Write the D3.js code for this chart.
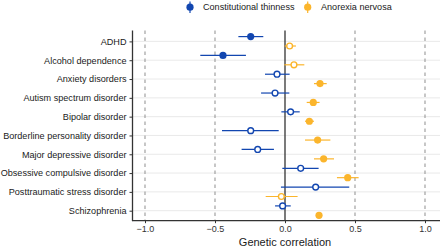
<!DOCTYPE html>
<html><head><meta charset="utf-8">
<script src="https://cdn.jsdelivr.net/npm/d3@7"></script>
<style>body{margin:0;background:#fff}svg{display:block;font-family:"Liberation Sans",Arial,Helvetica,sans-serif}</style>
</head><body><svg id="c" width="440" height="247"></svg>
<script>
const categories = ["ADHD","Alcohol dependence","Anxiety disorders","Autism spectrum disorder","Bipolar disorder","Borderline personality disorder","Major depressive disorder","Obsessive compulsive disorder","Posttraumatic stress disorder","Schizophrenia"];
const seriesNames = ["Constitutional thinness","Anorexia nervosa"];
const seriesColors = ["#1246b0","#fbb52c"];
// Constitutional thinness
const ctEst  = [-0.245,-0.443,-0.057,-0.071,0.040,-0.245,-0.195,0.112,0.219,-0.017];
const ctLow  = [-0.333,-0.605,-0.143,-0.171,-0.026,-0.450,-0.310,-0.019,-0.029,-0.071];
const ctHigh = [-0.155,-0.279,0.033,0.031,0.105,-0.045,-0.079,0.240,0.459,0.041];
const ctSig  = [true,true,false,false,false,false,false,false,false,false];
// Anorexia nervosa
const anEst  = [0.033,0.064,0.250,0.202,0.174,0.233,0.276,0.448,-0.026,0.243];
const anLow  = [-0.002,-0.005,0.207,0.155,0.143,0.143,0.207,0.371,-0.138,0.225];
const anHigh = [0.078,0.138,0.298,0.247,0.207,0.324,0.350,0.526,0.090,0.262];
const anSig  = [false,false,true,true,true,true,true,true,false,true];
const xTicks = [-1.0,-0.5,0.0,0.5,1.0];
const xTitle = "Genetic correlation";

const svg = d3.select("#c");
const x = d3.scaleLinear().domain([-1,1]).range([145,425]);
const y = d3.scalePoint().domain(categories).range([41.4,210.7]);
const pLeft = 132.5, pTop = 30.5, pBottom = 220.7, pRight = 440;
const dodge = [-4.8, 4.6];

// horizontal grid
svg.append("g").selectAll("line").data(categories).join("line")
  .attr("x1",pLeft).attr("x2",pRight).attr("y1",d=>y(d)).attr("y2",d=>y(d))
  .attr("stroke","#e6e6e6").attr("stroke-width",0.9);
// dashed references
svg.append("g").selectAll("line").data(xTicks.filter(v=>v!==0)).join("line")
  .attr("x1",d=>x(d)).attr("x2",d=>x(d)).attr("y1",pTop).attr("y2",pBottom)
  .attr("stroke","#999").attr("stroke-width",1.1).attr("stroke-dasharray","3.5,3.5");
// zero line
svg.append("line").attr("x1",x(0)).attr("x2",x(0)).attr("y1",pTop).attr("y2",pBottom)
  .attr("stroke","#333").attr("stroke-width",1.3);

// y axis
const yAxis = svg.append("g").attr("transform",`translate(${pLeft},0)`)
  .call(d3.axisLeft(y).tickSize(3).tickPadding(3));
yAxis.select(".domain").remove();
yAxis.selectAll(".tick line").attr("stroke","#333");
yAxis.selectAll("text").attr("font-size",9.1).attr("fill","#1a1a1a").attr("font-family","Liberation Sans, Arial, sans-serif");
svg.append("line").attr("x1",pLeft).attr("x2",pLeft).attr("y1",pTop).attr("y2",pBottom+0.5).attr("stroke","#333").attr("stroke-width",1.3);

// x axis
const xAxis = svg.append("g").attr("transform",`translate(0,${pBottom})`)
  .call(d3.axisBottom(x).tickValues(xTicks).tickSize(2.5).tickPadding(2).tickFormat(d3.format(".1f")));
xAxis.select(".domain").remove();
xAxis.selectAll(".tick line").attr("stroke","#333");
xAxis.selectAll("text").attr("font-size",9).attr("fill","#333").attr("font-family","Liberation Sans, Arial, sans-serif");
svg.append("line").attr("x1",pLeft).attr("x2",pRight).attr("y1",pBottom).attr("y2",pBottom).attr("stroke","#333").attr("stroke-width",1.3);
svg.append("text").attr("x",x(0)).attr("y",245.5).attr("text-anchor","middle")
  .attr("font-size",11).attr("fill","#1a1a1a").text(xTitle);

// data
const series = [
  {est:ctEst,low:ctLow,high:ctHigh,sig:ctSig},
  {est:anEst,low:anLow,high:anHigh,sig:anSig}
];
series.forEach((s,si)=>{
  const g = svg.append("g");
  const rows = categories.map((c,i)=>({c,est:s.est[i],low:s.low[i],high:s.high[i],sig:s.sig[i]}));
  g.selectAll("line").data(rows).join("line")
    .attr("x1",d=>x(d.low)).attr("x2",d=>x(d.high))
    .attr("y1",d=>y(d.c)+dodge[si]).attr("y2",d=>y(d.c)+dodge[si])
    .attr("stroke",seriesColors[si]).attr("stroke-width",1.2);
  g.selectAll("circle").data(rows).join("circle")
    .attr("cx",d=>x(d.est)).attr("cy",d=>y(d.c)+dodge[si])
    .attr("r",d=>d.sig?3.6:2.9)
    .attr("fill",d=>d.sig?seriesColors[si]:"#fff")
    .attr("stroke",seriesColors[si]).attr("stroke-width",d=>d.sig?0:1.4);
});

// legend
const legX = [190, 307.7], legTX = [203, 321];
seriesNames.forEach((n,i)=>{
  svg.append("line").attr("x1",legX[i]).attr("x2",legX[i]).attr("y1",1.5).attr("y2",13)
    .attr("stroke",seriesColors[i]).attr("stroke-width",1.2);
  svg.append("circle").attr("cx",legX[i]).attr("cy",7.2).attr("r",3.6).attr("fill",seriesColors[i]);
  svg.append("text").attr("x",legTX[i]).attr("y",10.3).attr("font-size",9.1).attr("fill","#1a1a1a").text(n);
});
</script></body></html>
